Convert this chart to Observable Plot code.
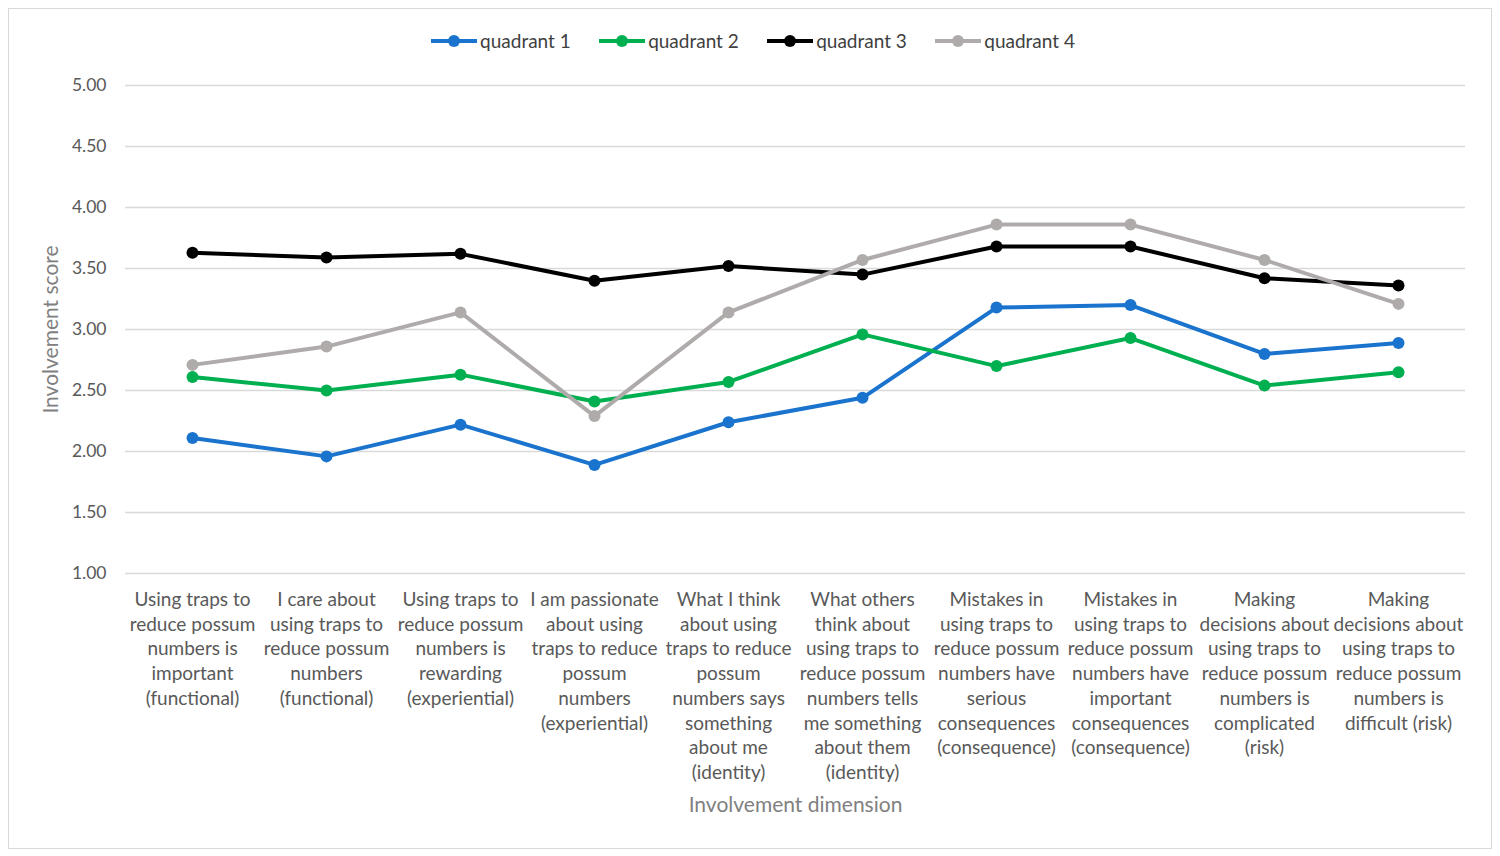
<!DOCTYPE html>
<html>
<head>
<meta charset="utf-8">
<script src="https://cdn.jsdelivr.net/npm/d3@7"></script>
<script src="https://cdn.jsdelivr.net/npm/@observablehq/plot@0.6"></script>
<style>
  html, body { margin: 0; padding: 0; background: #fff; }
  #frame {
    position: absolute; left: 8px; top: 8px; width: 1484px; height: 841px;
    box-sizing: border-box; border: 1px solid #d9d9d9; background: #fff;
    font-family: Lato, "Open Sans", sans-serif;
  }
  #legend {
    height: 63px; display: flex; justify-content: center; align-items: center;
    font-size: 19px; color: #404040; padding-left: 6px; box-sizing: border-box;
  }
  .item { display: flex; align-items: center; margin: 0 14.2px; }
  .item svg { margin-right: 3px; }
</style>
</head>
<body>
<div id="frame">
  <div id="legend"></div>
  <div id="chart"></div>
</div>
<script>
// ---- data ----
const categories = [
  "Using traps to\nreduce possum\nnumbers is\nimportant\n(functional)",
  "I care about\nusing traps to\nreduce possum\nnumbers\n(functional)",
  "Using traps to\nreduce possum\nnumbers is\nrewarding\n(experiential)",
  "I am passionate\nabout using\ntraps to reduce\npossum\nnumbers\n(experiential)",
  "What I think\nabout using\ntraps to reduce\npossum\nnumbers says\nsomething\nabout me\n(identity)",
  "What others\nthink about\nusing traps to\nreduce possum\nnumbers tells\nme something\nabout them\n(identity)",
  "Mistakes in\nusing traps to\nreduce possum\nnumbers have\nserious\nconsequences\n(consequence)",
  "Mistakes in\nusing traps to\nreduce possum\nnumbers have\nimportant\nconsequences\n(consequence)",
  "Making\ndecisions about\nusing traps to\nreduce possum\nnumbers is\ncomplicated\n(risk)",
  "Making\ndecisions about\nusing traps to\nreduce possum\nnumbers is\ndifficult (risk)"
];
const seriesNames = ["quadrant 1", "quadrant 2", "quadrant 3", "quadrant 4"];
const quadrant1 = [2.11, 1.96, 2.22, 1.89, 2.24, 2.44, 3.18, 3.20, 2.80, 2.89];
const quadrant2 = [2.61, 2.50, 2.63, 2.41, 2.57, 2.96, 2.70, 2.93, 2.54, 2.65];
const quadrant3 = [3.63, 3.59, 3.62, 3.40, 3.52, 3.45, 3.68, 3.68, 3.42, 3.36];
const quadrant4 = [2.71, 2.86, 3.14, 2.29, 3.14, 3.57, 3.86, 3.86, 3.57, 3.21];
const seriesColors = ["#1a73cc", "#00b050", "#000000", "#afabab"];
const yTicks = [1.00, 1.50, 2.00, 2.50, 3.00, 3.50, 4.00, 4.50, 5.00];
const xTitle = "Involvement dimension";
const yTitle = "Involvement score";

const seriesValues = [quadrant1, quadrant2, quadrant3, quadrant4];
const data = seriesNames.flatMap((s, i) =>
  categories.map((c, j) => ({series: s, cat: c, value: seriesValues[i][j]})));

// ---- legend ----
const legend = document.getElementById("legend");
seriesNames.forEach((s, i) => {
  const it = document.createElement("div");
  it.className = "item";
  it.innerHTML = `<svg width="46" height="14"><line x1="0" x2="46" y1="7" y2="7" stroke="${seriesColors[i]}" stroke-width="4"/><circle cx="23" cy="7" r="6" fill="${seriesColors[i]}"/></svg><span>${s}</span>`;
  legend.appendChild(it);
});

// ---- chart ----
const fontFamily = "Lato, 'Open Sans', sans-serif";
const marks = [
  Plot.gridY(yTicks, {stroke: "#d9d9d9", strokeOpacity: 1, strokeWidth: 1.5}),
  Plot.axisY(yTicks, {tickSize: 0, tickPadding: 19, tickFormat: d => d.toFixed(2), fontSize: 17.5, fill: "#595959", label: null}),
  Plot.axisX({tickSize: 0, tickPadding: 15, fontSize: 19, fill: "#595959", lineHeight: 1.3, lineAnchor: "top", label: null}),
  Plot.text([yTitle], {frameAnchor: "left", dx: -74, rotate: -90, textAnchor: "middle", fontSize: 21, fill: "#808080", text: d => d}),
  Plot.text([xTitle], {frameAnchor: "bottom", dy: 238, textAnchor: "middle", fontSize: 21, fill: "#808080", text: d => d})
];
seriesNames.forEach((s, i) => {
  const d = data.filter(r => r.series === s);
  marks.push(Plot.line(d, {x: "cat", y: "value", stroke: seriesColors[i], strokeWidth: 4}));
  marks.push(Plot.dot(d, {x: "cat", y: "value", fill: seriesColors[i], r: 6}));
});

const chart = Plot.plot({
  width: 1482,
  height: 776,
  marginLeft: 116,
  marginRight: 26,
  marginTop: 13,
  marginBottom: 275,
  style: {fontFamily, background: "#fff"},
  x: {type: "point", domain: categories, padding: 0.5},
  y: {domain: [1, 5]},
  marks
});
document.getElementById("chart").appendChild(chart);
</script>
</body>
</html>
